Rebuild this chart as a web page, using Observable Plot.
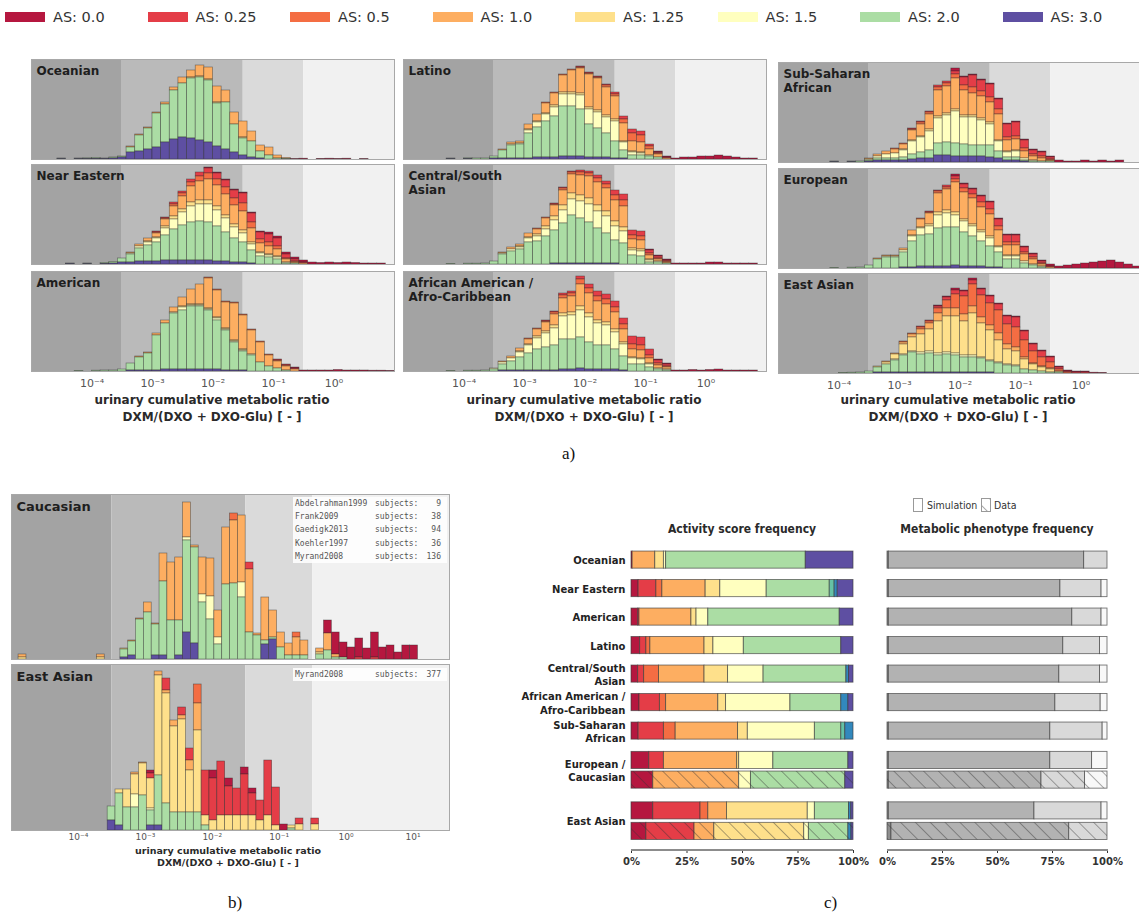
<!DOCTYPE html>
<html><head><meta charset="utf-8">
<script src="https://cdn.jsdelivr.net/npm/d3@7"></script>
<script src="https://cdn.jsdelivr.net/npm/@observablehq/plot@0.6"></script>
<style>
body{margin:0;background:#fff;}
#root{position:relative;width:1139px;height:923px;overflow:hidden;font-family:"DejaVu Sans",sans-serif;background:#fff;}
.abs{position:absolute;}
.axt{position:absolute;text-align:center;font-weight:bold;color:#2a2a2a;white-space:nowrap;}
.lbl{position:absolute;font-family:"Liberation Serif","Times New Roman",serif;font-size:17px;color:#111;}
.leg{position:absolute;top:10px;height:14px;display:flex;align-items:center;font-size:14.5px;color:#333;white-space:nowrap;}
.leg i{display:inline-block;width:40px;height:10px;margin-right:8px;}
.src{position:absolute;background:rgba(255,255,255,0.85);font-family:"DejaVu Sans Mono",monospace;font-size:8px;color:#555;line-height:13.2px;}
.src div{display:flex;}
.src span{display:inline-block;}
</style>
</head><body>
<svg width="0" height="0" style="position:absolute">
  <defs>
    <pattern id="hatch" patternUnits="userSpaceOnUse" width="10.5" height="10.5" patternTransform="rotate(-45)">
      <line x1="0" y1="0" x2="0" y2="10.5" stroke="#333" stroke-opacity="0.75" stroke-width="1.1"/>
    </pattern>
  </defs>
</svg>
<div id="root"></div>
<script>
// ---------------- categories & colours ----------------
const histLevels = ["0.0","0.25","0.5","1.0","1.25","1.5","2.0","3.0"];
const asLevels   = ["0.0","0.25","0.5","1.0","1.25","1.5","2.0","2.25","2.5","3.0"];
const asColors   = ["#b5173f","#e43d47","#f46d43","#fdae61","#fee08b","#ffffbf","#abdda4","#66c2a5","#3288bd","#5e4fa2"];
const legendLevels = ["0.0","0.25","0.5","1.0","1.25","1.5","2.0","3.0"];
const phenotypes = ["UM","EM","IM","PM"];
const phenoColors = ["#a3a3a3","#bababa","#dadada","#f1f1f1"];
const phenoBarColors = ["#8e8e8e","#b2b2b2","#d9d9d9","#f8f8f8"];

// metabolic ratio thresholds (background regions)
const boundsA = [1e-5, 3.16e-4, 3.16e-2, 3.16e-1, 10];
const boundsB = [1e-5, 3.16e-4, 3.16e-2, 3.16e-1, 35];
const ticksA = [1e-4, 1e-3, 1e-2, 1e-1, 1];
const ticksB = [1e-4, 1e-3, 1e-2, 1e-1, 1, 10];

// ---------------- a) simulated histograms ----------------
// rows: [bin, AS0.0, AS0.25, AS0.5, AS1.0, AS1.25, AS1.5, AS2.0, AS3.0]; bins of 1/7 decade from 1e-5
const oceanian = [
[3,0,0,0,0,0,0,0.6,0.4],[5,0,0,0,0,0,0,0.6,0.4],[6,0,0,0,0,0,0,0.8,0.4],[7,0,0,0,0,0,0,1,0.5],
[8,0,0,0,0,0,0,0.5,0.5],[9,0,0,0,0,0,0,1,1],[10,0,0,0,0,0,0,1,2],
[11,0,0,0,1,0,0,5,7],[12,0,0,0,1,0,0,16,8],[13,0,0,0,1,0,0,21,10],[14,0,0,0,1,0,0,34,12],
[15,0,0,0,2,0,0,38,17],[16,0,0,0,3,0,0,49,20],[17,0,0,0,6,0,0,54,22],[18,0,0,0,7,1,0,60,21],
[19,0,0,0,11,1,0,63,19],[20,0,0,0,12,1,0,62,17],[21,0,0,0,16,1,0,43,13],[22,0,0,0,12,0,0,47,10],
[23,0,0,0,12,0,0,28,7],[24,0,0,0,16,1,0,17,4],[25,0,0,0,10,0,0,16,2],[26,0,0,0,6,0,0,7,1],
[27,0,0,0,8,0,0,4,0],[28,0,0,0,3,0,0,1,0],[29,0,0,0,1,0,0,0.5,0],
[30,0.5,0,0,0,0,0,0,0],[31,0.8,0,0,0,0,0,0,0],[33,0.6,0,0,0,0,0,0,0],[34,0.8,0,0,0,0,0,0,0],
[35,0.6,0,0,0,0,0,0,0],[36,0.8,0,0,0,0,0,0,0],[38,0.5,0,0,0,0,0,0,0]];
const nearEastern = [
[4,0,0,0,0,0,0,0.5,0.5],[6,0,0,0,0,0,0,0.6,0.4],[8,0,0,0,0,0,0,1,0.5],[9,0,0,0,0,0,0,1.5,1],
[10,0,0,0,0,0,0,4,2],[11,0,0,0,1,0,1,8,2],[12,0,0,0,2,0,2,13,3],[13,0,0,0,3,1,3,16,3],
[14,0,1,1,4,1,4,19,3],[15,0,1,1,7,2,7,25,4],[16,0,2,2,10,3,10,31,4],[17,0,2,3,13,3,13,35,4],
[18,0,3,4,16,4,16,38,4],[19,0,4,5,19,4,17,39,4],[20,1,5,6,21,4,18,38,4],[21,1,6,6,21,4,16,35,3],
[22,1,7,7,21,3,14,29,3],[23,1,8,7,19,3,11,24,2],[24,1,10,8,19,3,9,20,2],[25,1,9,6,14,2,6,13,1],
[26,1,7,4,9,1,3,8,0],[27,2,8,4,8,1,2,7,0],[28,2,8,3,7,1,2,5,0],[29,2,4,1,3,0,1,1,0],
[30,2,2,1,1,0,0,1,0],[31,2,1,0,1,0,0,0,0],[32,2,0,0,0,0,0,0,0],[33,1.5,0,0,0,0,0,0,0],
[34,2,0,0,0,0,0,0,0],[35,1.5,0,0,0,0,0,0,0],[36,2,0,0,0,0,0,0,0],[37,1.5,0,0,0,0,0,0,0],
[38,1,0,0,0,0,0,0,0],[39,1,0,0,0,0,0,0,0],[40,1,0,0,0,0,0,0,0]];
const american = [
[5,0,0,0,0,0,0,0.6,0],[7,0,0,0,0,0,0,0.8,0],[8,0,0,0,0,0,0,1,0],[9,0,0,0,0,0,0,1,0],
[10,0,0,0,0,0,0,2,0],[11,0,0,0,0,0,0,7,1],[12,0,0,0,1,0,0,13,1],[13,0,0,0,1,0,0,17,1],
[14,0,0,0,2,0,0,35,1],[15,0,0,0,3,0,0,46,2],[16,0,0,0,5,0,1,56,2],[17,0,0,0,9,1,3,59,2],
[18,0,0,0,15,1,1,63,2],[19,0,0,0,20,1,1,63,2],[20,0,0,1,30,1,1,59,2],[21,0,0,1,27,1,2,49,2],
[22,0,0,1,26,1,1,40,1],[23,0,0,1,37,1,1,28,1],[24,0,0,1,34,1,1,19,1],[25,0,0,1,24,0,1,16,0],
[26,0,0,1,20,0,0,9,0],[27,0,0,1,11,0,0,5,0],[28,0,1,1,7,0,0,3,0],[29,0,1,1,4,0,0,1,0],
[30,1,1,0,2,0,0,0,0],[31,1,0,0,0,0,0,0,0],[32,1,0,0,0,0,0,0,0],[33,1,0,0,0,0,0,0,0],
[34,1,0,0,0,0,0,0,0],[35,1.5,0,0,0,0,0,0,0],[36,1,0,0,0,0,0,0,0],[37,1,0,0,0,0,0,0,0],
[38,1,0,0,0,0,0,0,0],[39,0.8,0,0,0,0,0,0,0],[40,0.8,0,0,0,0,0,0,0],[41,0.6,0,0,0,0,0,0,0]];
const latino = [
[5,0,0,0,0,0,0,0.6,0.4],[7,0,0,0,0,0,0,0.8,0.4],[8,0,0,0,0,0,0,1,0],[9,0,0,0,0,0,0,1,0],
[10,0,0,0,0,0,0,2,1],[11,0,0,0,1,0,0,8,1],[12,0,0,0,2,0,1,13,1],[13,0,0,0,2,0,1,14,1],
[14,0,0,0,5,1,3,25,1],[15,0,0,0,7,1,5,30,2],[16,0,0,1,10,1,7,36,2],[17,0,0,1,12,2,9,41,2],
[18,0,0,1,17,2,12,50,3],[19,0,0,1,22,2,12,50,3],[20,0,1,1,25,2,14,47,3],[21,0,1,1,33,2,15,33,2],
[22,0,1,1,32,2,16,29,2],[23,0,1,2,28,2,16,24,2],[24,0,2,2,23,2,20,17,1],[25,0,3,4,18,1,8,8,1],
[26,0,4,8,10,1,3,4,0],[27,0,4,7,10,1,2,4,0],[28,0,2,3,6,0,1,3,0],[29,1,1,1,3,0,0,2,0],
[30,1,1,0,1,0,0,0,0],[31,1,0,0,0,0,0,0,0],[32,2,0,0,0,0,0,0,0],[33,2,0,0,0,0,0,0,0],
[34,3,0,0,0,0,0,0,0],[35,3,0,0,0,0,0,0,0],[36,4,0,0,0,0,0,0,0],[37,3,0,0,0,0,0,0,0],
[38,2,0,0,0,0,0,0,0],[39,1,0,0,0,0,0,0,0],[40,1,0,0,0,0,0,0,0]];
const centralSouthAsian = [
[5,0,0,0,0,0,0,0.6,0],[7,0,0,0,0,0,0,0.8,0],[8,0,0,0,0,0,0,0.8,0],
[9,0,0,0,0,0,0,1,0],[10,0,0,0,0,0,0,3,0],[11,0,0,0,1,0,1,10,0],[12,0,0,0,2,0,2,13,0],
[13,0,0,0,2,1,2,15,0],[14,0,0,0,4,1,4,22,0],[15,0,0,1,5,2,5,23,0],[16,0,0,1,8,3,7,28,0],
[17,0,1,1,11,4,10,33,1],[18,0,1,2,15,5,13,40,1],[19,0,1,2,19,6,16,48,1],[20,0,2,3,20,6,17,45,1],
[21,0,2,3,22,6,18,41,1],[22,0,3,4,23,6,17,35,1],[23,0,3,4,23,5,17,30,1],[24,0,5,5,21,5,14,23,1],
[25,0,6,6,21,4,12,21,0],[26,0,5,4,9,2,5,9,0],[27,0,5,4,9,2,5,8,0],[28,1,3,2,4,1,2,2,0],
[29,1,2,1,2,0,1,2,0],[30,1,1,1,1,0,0,1,0],[31,1,0,0,0,0,0,0,0],[32,1,0,0,0,0,0,0,0],
[33,1,0,0,0,0,0,0,0],[34,1,0,0,0,0,0,0,0],[35,2,0,0,0,0,0,0,0],[36,2,0,0,0,0,0,0,0],
[37,1,0,0,0,0,0,0,0],[38,1,0,0,0,0,0,0,0],[39,1,0,0,0,0,0,0,0],[40,1,0,0,0,0,0,0,0]];
const africanAmerican = [
[5,0,0,0,0,0,0,0.6,0],[7,0,0,0,0,0,0,0.8,0],[8,0,0,0,0,0,0,0.8,0],
[9,0,0,0,0,0,0,1,0],[10,0,0,0,0,0,1,2,0],[11,0,0,0,1,0,2,6,1],[12,0,0,0,2,0,3,9,1],
[13,0,0,0,3,1,5,13,1],[14,0,0,1,5,1,8,17,1],[15,0,0,1,7,2,11,21,1],[16,0,1,1,9,2,14,23,1],
[17,0,1,2,11,3,17,25,1],[18,0,2,3,15,3,23,30,2],[19,0,2,3,16,3,24,30,2],[20,0,3,5,22,4,27,31,3],
[21,0,4,5,20,4,25,27,2],[22,0,5,5,19,3,22,24,2],[23,0,5,5,18,3,20,24,2],[24,0,6,5,17,3,17,20,2],
[25,0,6,5,13,2,12,14,1],[26,0,8,5,8,1,6,7,0],[27,0,8,5,8,1,5,7,0],[28,0,6,3,5,1,3,4,0],
[29,1,3,2,3,0,1,2,0],[30,1,2,1,2,0,1,1,0],[31,1,0,0,0,0,0,0,0],[32,1,0,0,0,0,0,0,0],
[33,1.5,0,0,0,0,0,0,0],[34,1,0,0,0,0,0,0,0],[35,1.5,0,0,0,0,0,0,0],[36,2,0,0,0,0,0,0,0],
[37,1,0,0,0,0,0,0,0],[38,1,0,0,0,0,0,0,0],[39,1,0,0,0,0,0,0,0],[40,1,0,0,0,0,0,0,0]];
const subSaharan = [
[6,0,0,0,0,0,0,0.6,0.4],[8,0,0,0,0,0,0,0.6,0.4],[9,0,0,0,0,0,0,1,0],[10,0,0,0,1,0,1,1,1],
[11,0,0,0,2,0,2,2,2],[12,0,0,0,3,0,4,2,2],[13,0,0,1,4,0,5,2,2],[14,0,0,1,5,1,7,3,2],
[15,0,1,1,10,1,13,5,3],[16,0,1,2,12,1,15,6,4],[17,0,1,2,15,2,19,8,4],[18,0,2,3,26,2,25,12,7],
[19,0,2,3,27,2,27,13,7],[20,3,3,4,31,2,32,13,6],[21,1,8,5,25,2,27,12,6],[22,1,12,6,22,2,28,11,6],
[23,1,11,5,22,2,25,11,6],[24,1,13,5,20,2,21,12,5],[25,1,10,5,26,1,10,7,4],[26,1,13,3,11,1,5,3,2],
[27,1,14,3,11,1,6,3,2],[28,1,8,3,7,0,2,1,1],[29,1,4,2,4,0,1,1,0],[30,1,4,2,3,0,0,1,0],
[31,1,2,1,1,0,0,1,0],[32,2,0,0,0,0,0,0,0],[33,1,0,0,0,0,0,0,0],[34,1,0,0,0,0,0,0,0],
[35,2,0,0,0,0,0,0,0],[36,1,0,0,0,0,0,0,0],[37,2,0,0,0,0,0,0,0],[38,1,0,0,0,0,0,0,0],
[39,2,0,0,0,0,0,0,0]];
const european = [
[6,0,0,0,0,0,0,0.6,0],[8,0,0,0,0,0,0,0.8,0],[9,0,0,0,0,0,0,1,0],[10,0,0,0,0,0,0,3,0],
[11,0,0,0,1,0,0,9,0],[12,0,0,0,1,0,1,11,0],[13,0,0,0,1,0,1,11,0],[14,0,0,0,2,0,2,15,1],
[15,0,0,0,5,1,5,26,1],[16,0,0,1,8,1,7,31,2],[17,0,1,1,11,2,8,32,2],[18,0,1,2,19,3,13,38,2],
[19,0,2,2,21,3,14,39,2],[20,2,3,3,30,3,12,38,3],[21,1,4,4,27,2,11,34,2],[22,1,5,4,26,2,10,30,2],
[23,1,6,5,23,2,9,25,2],[24,1,7,5,22,2,8,21,1],[25,1,7,4,16,1,5,15,1],[26,1,7,3,10,1,3,9,0],
[27,1,7,3,10,1,3,9,0],[28,1,5,2,7,0,2,5,0],[29,1,3,2,5,0,1,3,0],[30,1,2,1,2,0,1,1,0],
[31,2,1,0,1,0,0,0,0],[32,2,0,0,0,0,0,0,0],[33,3,0,0,0,0,0,0,0],[34,4,0,0,0,0,0,0,0],
[35,5,0,0,0,0,0,0,0],[36,6,0,0,0,0,0,0,0],[37,7,0,0,0,0,0,0,0],[38,8,0,0,0,0,0,0,0],
[39,6,0,0,0,0,0,0,0],[40,4,0,0,0,0,0,0,0],[41,2,0,0,0,0,0,0,0]];
const eastAsian = [
[7,0,0,0,0,0,0,0.6,0],[8,0,0,0,0,0,0,0.8,0],[9,0,0,0,0,0,0,1,0],[10,0,0,0,0,0,0,2,0],
[11,0,0,0,0,1,0,5,1],[12,0,0,0,1,2,0,8,1],[13,0,0,0,1,5,1,12,1],[14,0,0,1,2,10,1,17,1],
[15,0,0,1,3,14,1,20,1],[16,0,1,2,5,18,2,18,1],[17,0,1,2,6,22,2,19,1],[18,1,2,5,8,32,2,17,1],
[19,1,3,8,8,36,2,18,1],[20,2,4,14,8,37,2,17,1],[21,1,5,18,7,34,2,15,1],[22,2,4,22,7,42,2,15,1],
[23,1,6,22,6,34,1,14,1],[24,1,7,22,5,30,1,11,1],[25,1,6,23,7,22,1,10,0],[26,1,8,20,5,15,1,8,0],
[27,1,10,20,4,14,1,7,0],[28,1,9,17,2,10,0,4,0],[29,1,7,12,1,6,0,3,0],[30,1,6,9,1,4,0,2,0],
[31,1,5,6,1,3,0,1,0],[32,1,2,2,0,1,0,1,0],[33,1,1,1,0,0,0,0,0],[34,1,1,0,0,0,0,0,0],
[35,1,1,0,0,0,0,0,0],[36,0.8,0,0,0,0,0,0,0],[37,0.6,0,0,0,0,0,0,0]];

// ---------------- b) data histograms ----------------
// rows: [bin, AS0.0 ... AS3.0]; bins of 0.117 decade
const caucasianStart = -3.373, eastAsianStart = -3.563, binWidthB = 0.117;
const caucasianData = [
[-13,0,0,0,3,2,0,0,0],[-3,0,0,0,3,2,0,0,0],
[0,0,0,0,0,1,0,8,2],[1,0,0,0,1,0,0,14,4],[2,0,0,0,1,0,0,40,0],[3,0,0,0,10,0,0,47,0],
[4,0,0,0,1,0,0,31,4],[5,0,0,0,28,0,0,74,4],[6,0,0,0,58,0,0,39,0],[7,0,0,0,63,0,0,35,4],
[8,0,0,0,35,0,3,92,27],[9,0,0,0,2,0,0,96,16],[10,0,0,0,37,0,8,57,0],[11,0,0,0,38,0,23,40,0],
[12,0,0,0,27,0,7,15,0],[13,0,0,0,57,0,0,75,0],[14,0,0,7,63,0,0,76,0],[15,0,0,0,67,0,15,62,0],
[16,0,7,0,63,0,0,27,0],[17,0,0,0,2,0,0,24,0],[18,0,0,0,43,0,0,4,15],[19,0,0,0,27,0,0,2,20],
[20,0,0,0,15,0,0,12,0],[21,0,0,0,12,0,0,4,0],[22,0,0,5,18,0,0,4,0],[23,0,0,0,15,0,0,4,0],
[25,0,0,0,4,2,0,5,0],[26,13,0,0,17,0,0,9,0],[27,22,0,0,3,0,0,2,0],[28,15,0,0,0,0,0,2,0],
[29,12,0,0,0,0,0,0,0],[30,19,2,0,0,0,0,0,0],[31,11,0,0,0,0,0,0,0],[32,25,2,0,0,0,0,0,0],
[33,12,0,0,0,0,0,0,0],[34,14,0,0,0,0,0,0,0],[35,7,0,0,0,0,0,0,0],[36,14,0,0,0,0,0,0,0],
[37,14,0,0,0,0,0,0,0]];
const eastAsianData = [
[0,0,0,0,0,0,0,14,10],[1,0,0,0,0,4,0,32,5],[2,0,0,0,0,18,0,23,0],[3,0,0,0,2,20,13,23,0],
[4,0,0,0,1,32,0,35,0],[5,3,5,0,0,30,2,15,5],[6,0,0,0,4,100,0,50,5],[7,0,12,0,3,110,0,27,0],
[8,0,0,0,6,86,0,18,0],[9,0,8,0,4,93,0,18,0],[10,0,12,0,10,42,0,18,0],[11,0,0,19,27,82,0,18,0],
[12,0,45,0,0,10,0,5,0],[13,8,42,0,0,10,0,0,0],[14,0,54,0,0,15,0,0,0],[15,8,29,0,0,15,0,0,0],
[16,0,27,0,0,15,0,0,0],[17,7,41,0,0,15,0,0,0],[18,5,22,0,0,15,0,0,0],[19,0,20,0,0,10,0,0,0],
[20,0,55,0,0,15,0,0,0],[21,0,38,0,0,5,0,0,0],[22,6,0,0,0,0,0,0,0],[23,0,0,0,0,3,0,2,0],
[24,0,6,0,0,6,0,0,0],[26,0,6,0,0,6,0,0,0]];
const caucasianSources = [["Abdelrahman1999",9],["Frank2009",38],["Gaedigk2013",94],["Koehler1997",36],["Myrand2008",136]];
const eastAsianSources = [["Myrand2008",377]];

// ---------------- c) frequencies (%) ----------------
const groups = ["Oceanian","Near Eastern","American","Latino","Central/South\nAsian","African American /\nAfro-Caribbean","Sub-Saharan\nAfrican","European /\nCaucasian","East Asian"];
// AS 0.0,0.25,0.5,1.0,1.25,1.5,2.0,2.25,2.5,3.0
const asSim = [
[0.5,0,0,10.2,3.9,1.0,62.9,0,0,21.5],
[3.2,8.0,2.7,19.5,6.6,20.9,28.4,2.2,1.4,7.1],
[3.0,0.6,0,23.4,2.3,5.3,59.2,0,0,6.2],
[3.9,2.8,1.8,24.4,4.0,13.7,43.9,0,0,5.5],
[3.0,2.7,6.7,20.5,10.6,16.0,37.3,0,1.2,2.0],
[3.6,9.2,2.8,23.5,3.5,29.0,22.9,0,3.2,2.3],
[3.2,11.4,5.3,28.1,4.4,30.2,11.9,1.8,3.7,0],
[8.0,6.6,0,33.0,0.9,15.4,33.8,0,0,2.3],
[9.8,21.3,3.5,8.4,36.4,3.2,15.4,0,1.0,1.0]];
const asData = {"European /\nCaucasian":[9.8,0,0,38.7,0,5.3,42.5,0,0,3.7],
                "East Asian":[6.7,21.7,0,8.9,40.5,2.1,17.8,0,1.4,0.9]};
// phenotype UM, EM, IM, PM
const phenoSim = [
[0.6,88.8,10.6,0],[0.6,78.0,18.7,2.7],[0.6,83.4,13.3,2.7],[0.6,79.3,16.7,3.4],[0.6,77.5,18.5,3.4],
[0.6,75.7,20.6,3.1],[0.6,73.4,23.8,2.2],[0.6,73.4,19.0,7.0],[0.6,66.2,30.5,2.7]];
const phenoData = {"European /\nCaucasian":[0.6,69.4,19.8,10.2],"East Asian":[1.8,80.8,17.4,0]};

// ---------------- helpers ----------------
const root = document.getElementById("root");
function place(node, left, top){ node.style.position="absolute"; node.style.left=left+"px"; node.style.top=top+"px"; root.appendChild(node); return node; }
function div(cls, html, left, top, extra){ const d=document.createElement("div"); d.className=cls; d.innerHTML=html; d.style.left=left+"px"; d.style.top=top+"px"; if(extra) Object.assign(d.style, extra); root.appendChild(d); return d; }
const supDigits = "⁰¹²³⁴⁵⁶⁷⁸⁹";
const tickSup = d => "10" + String(Math.round(Math.log10(d))).replace(/-/g,"⁻").replace(/\d/g, c => supDigits[+c]);
const stackOrder = histLevels.slice().reverse();

function histRecords(rows, start, w){
  const out=[];
  for (const r of rows) histLevels.forEach((lv,k)=>{ const v=r[k+1]; if(v>0) out.push({x1:10**(start+r[0]*w), x2:10**(start+(r[0]+1)*w), as:lv, v}); });
  return out;
}
function histPlot({rows,start,w,width,height,yMax,bounds,label,axis,ticks,tickPad,tickFont,labelSize}){
  const mb = axis ? 24 : 0;
  const bands = bounds.slice(0,-1).map((b,k)=>Plot.rect([0],{x1:b,x2:bounds[k+1],y1:0,y2:yMax,fill:phenoColors[k]}));
  return Plot.plot({
    width, height: height+mb, marginTop:0, marginRight:0, marginLeft:0, marginBottom:mb,
    style:{fontFamily:"DejaVu Sans", fontSize:tickFont+"px", color:"#555", background:"transparent", overflow:"visible"},
    x:{type:"log", domain:[bounds[0], bounds[bounds.length-1]], axis: axis ? "bottom" : null, ticks, tickFormat:tickSup, tickSize:0, tickPadding:tickPad, label:null},
    y:{domain:[0,yMax], axis:null},
    color:{domain:asLevels, range:asColors},
    marks:[
      ...bands,
      Plot.rectY(histRecords(rows,start,w),{x1:"x1",x2:"x2",y:"v",fill:"as",order:stackOrder,stroke:"#2b2b2b",strokeOpacity:0.55,strokeWidth:0.7}),
      Plot.frame({stroke:"#a8a8a8"}),
      Plot.text([label],{frameAnchor:"top-left",dx:5,dy:6,textAnchor:"start",lineAnchor:"top",fontWeight:"bold",fontSize:labelSize,fill:"#1e1e1e",lineHeight:1.15})
    ]
  });
}

// ---------------- top legend ----------------
legendLevels.forEach((lv,k)=>{
  div("leg", `<i style="background:${asColors[asLevels.indexOf(lv)]}"></i>AS: ${lv}`, 5 + k*142.5, 10);
});

// ---------------- panel a ----------------
const aPanels = [
  {label:"Oceanian", rows:oceanian}, {label:"Near Eastern", rows:nearEastern}, {label:"American", rows:american},
  {label:"Latino", rows:latino}, {label:"Central/South\nAsian", rows:centralSouthAsian}, {label:"African American /\nAfro-Caribbean", rows:africanAmerican},
  {label:"Sub-Saharan\nAfrican", rows:subSaharan}, {label:"European", rows:european}, {label:"East Asian", rows:eastAsian}];
const colLeft = [31,403,778];
const rowTops = [[59,164,271],[59,164,271],[62,168,273]];
aPanels.forEach((p,idx)=>{
  const c = Math.floor(idx/3), r = idx%3;
  const svg = histPlot({rows:p.rows,start:-5,w:1/7,width:363,height:100,yMax:100,bounds:boundsA,label:p.label,axis:r===2,ticks:ticksA,tickPad:8,tickFont:11,labelSize:12});
  place(svg, colLeft[c], rowTops[c][r]);
});
[212,584,958].forEach(cx=>{
  div("axt","urinary cumulative metabolic ratio<br>DXM/(DXO + DXO-Glu) [ - ]", cx-160, 392, {width:"320px",fontSize:"12px",lineHeight:"16.5px"});
});
div("lbl","a)",562,444);

// ---------------- panel b ----------------
place(histPlot({rows:caucasianData,start:caucasianStart,w:binWidthB,width:438,height:165,yMax:165,bounds:boundsB,label:"Caucasian",axis:false,ticks:ticksB,tickPad:4,tickFont:9,labelSize:13}), 11, 494);
place(histPlot({rows:eastAsianData,start:eastAsianStart,w:binWidthB,width:438,height:166,yMax:166,bounds:boundsB,label:"East Asian",axis:true,ticks:ticksB,tickPad:3,tickFont:9,labelSize:13}), 11, 664);
div("axt","urinary cumulative metabolic ratio<br>DXM/(DXO + DXO-Glu) [ - ]", 228-130, 845, {width:"260px",fontSize:"9.5px",lineHeight:"12px"});
function sourceBox(list, left, top){
  const html = list.map(([n,s])=>`<div><span style="width:80px">${n}</span><span style="width:50px">subjects:</span><span style="width:16px;text-align:right">${s}</span></div>`).join("");
  div("src", html, left, top, {width:"150px", padding:"0px 2px"});
}
sourceBox(caucasianSources, 293, 497);
sourceBox(eastAsianSources, 293, 668);
div("lbl","b)",228,893);

// ---------------- panel c ----------------
const slotSim = [0,1,2,3,4,5,6,7.03,8.8];
const slotData = {"European /\nCaucasian":7.72,"East Asian":9.52};
const half = 0.3;
function barRecords(levels, simRows, dataMap){
  const out=[];
  groups.forEach((g,gi)=>{
    simRows[gi].forEach((v,k)=>{ if(v>0) out.push({g, kind:"sim", y1:slotSim[gi]-half, y2:slotSim[gi]+half, lv:levels[k], v}); });
    if (dataMap[g]) dataMap[g].forEach((v,k)=>{ if(v>0) out.push({g, kind:"data", y1:slotData[g]-half, y2:slotData[g]+half, lv:levels[k], v}); });
  });
  return out;
}
const labelRecords = groups.map((g,gi)=>({g, y: slotData[g] ? (slotSim[gi]+slotData[g])/2 : slotSim[gi]}));
const pctFmt = d => d + "%";
function freqPlot({left,width,ml,mr,levels,colors,simRows,dataMap,labels}){
  const recs = barRecords(levels, simRows, dataMap);
  const dataRecs = recs.filter(d=>d.kind==="data");
  const marks = [
    Plot.rectX(recs,{x:"v",y1:"y1",y2:"y2",fill:"lv",order:levels,stroke:"#3a3a3a",strokeOpacity:0.7,strokeWidth:0.9}),
    Plot.rectX(dataRecs,{x:"v",y1:"y1",y2:"y2",z:"lv",fill:"url(#hatch)",order:levels}),
  ];
  if (labels) marks.push(Plot.text(labelRecords,{x:0,y:"y",text:"g",textAnchor:"end",lineAnchor:"middle",dx:-6,fontWeight:"bold",fontSize:10,fill:"#222",lineHeight:1.35}));
  const svg = Plot.plot({
    width, height:340, marginLeft:ml, marginRight:mr, marginTop:10, marginBottom:30,
    style:{fontFamily:"DejaVu Sans", fontSize:"10px", fontWeight:"bold", color:"#333", background:"transparent", overflow:"visible"},
    x:{domain:[0,100], ticks:[0,25,50,75,100], tickFormat:pctFmt, tickSize:3, tickPadding:4, label:null},
    y:{type:"linear", domain:[0,9.52], range:[19.6,290.9], axis:null},
    color:{domain:levels, range:colors},
    marks
  });
  place(svg, left, 540);
}
freqPlot({left:520,width:345,ml:111,mr:12,levels:asLevels,colors:asColors,simRows:asSim,dataMap:asData,labels:true});
freqPlot({left:870,width:245,ml:17,mr:8,levels:phenotypes,colors:phenoBarColors,simRows:phenoSim,dataMap:phenoData,labels:false});
// axis lines
div("abs","",631,849,{width:"222px",height:"1.6px",background:"#8c8c8c"});
div("abs","",887,849,{width:"221px",height:"1.6px",background:"#8c8c8c"});
div("axt","Activity score frequency",742-110,522,{width:"220px",fontSize:"12px",fontFamily:"'DejaVu Sans Condensed','DejaVu Sans'"});
div("axt","Metabolic phenotype frequency",997-120,522,{width:"240px",fontSize:"12px",fontFamily:"'DejaVu Sans Condensed','DejaVu Sans'"});
// simulation / data legend
div("abs",`<svg width="110" height="16"><rect x="0.5" y="1.5" width="9" height="13" fill="#fff" stroke="#999"/><text x="14" y="12" font-size="10.5" font-family="DejaVu Sans Condensed, DejaVu Sans" fill="#333">Simulation</text><rect x="68.5" y="1.5" width="9" height="13" fill="url(#hatch)" stroke="#999"/><text x="81" y="12" font-size="10.5" font-family="DejaVu Sans Condensed, DejaVu Sans" fill="#333">Data</text></svg>`,913,497);
div("lbl","c)",824,893);
</script>
</body></html>
